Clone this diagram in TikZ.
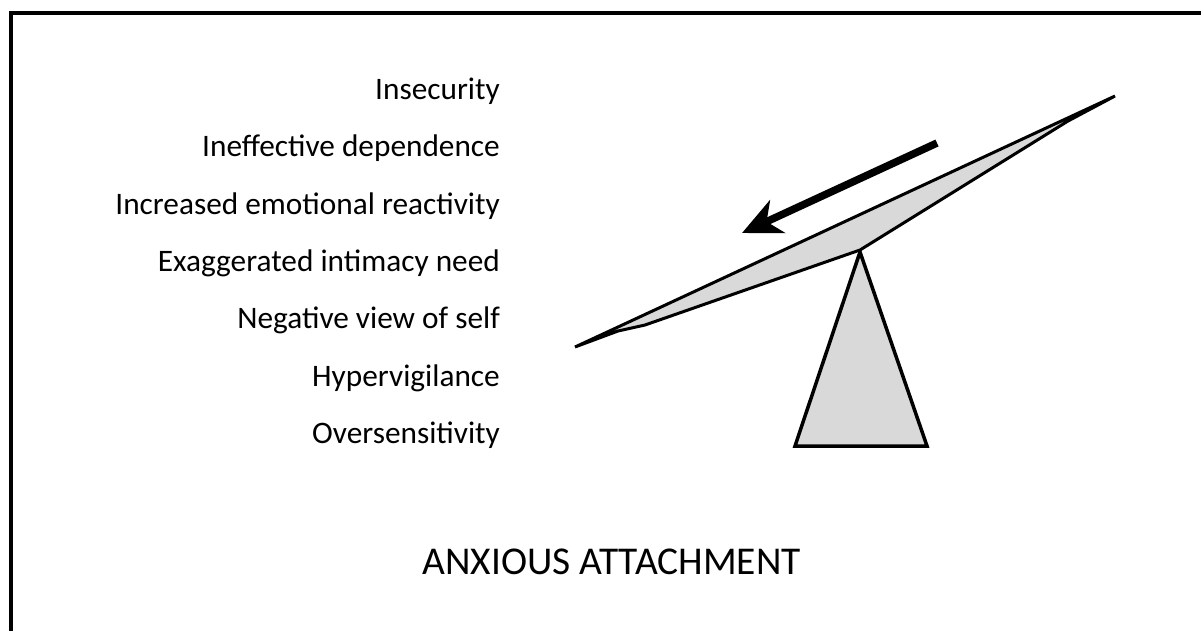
\documentclass[tikz,border=0pt]{standalone}
\usepackage{fontspec}
\setmainfont{Carlito}
\usetikzlibrary{arrows.meta}
\definecolor{plankgray}{HTML}{D9D9D9}
\begin{document}
\begin{tikzpicture}[x=1pt,y=-1pt,
  item/.style={anchor=base east, inner sep=0pt, font=\fontsize{31.3}{37}\selectfont},
  titletext/.style={anchor=base, inner sep=0pt, font=\fontsize{39.4}{47}\selectfont},
  grayshape/.style={draw=black, fill=plankgray, line join=miter},
  bigarrow/.style={line width=7.5pt, -{Stealth[length=39pt, width=36pt, inset=12pt]}}
]
\useasboundingbox (0,0) rectangle (1201,630);
\fill[white] (0,0) rectangle (1201,630);
\draw[line width=4pt] (10.5,640) -- (10.5,13) -- (1215,13);

\node[item] (t1) at (500,99) {Insecurity};
\node[item] (t2) at (500,156.5) {Ineffective dependence};
\node[item] (t3) at (500,214) {Increased emotional reactivity};
\node[item] (t4) at (500,271) {Exaggerated intimacy need};
\node[item] (t5) at (500,328.5) {Negative view of self};
\node[item] (t6) at (500,386) {Hypervigilance};
\node[item] (t7) at (500,443) {Oversensitivity};

\node[titletext] (title) at (611.5,574) {ANXIOUS ATTACHMENT};

% fulcrum
\draw[grayshape, line width=3.5pt] (860,252) -- (927,446) -- (795,446) -- cycle;
% plank
\draw[grayshape, line width=3pt] (575,347) -- (1115,96) -- (1068,121) -- (860,250) -- (645,325) -- (618,331) -- cycle;

% arrow
\coordinate (atail) at (937,143);
\coordinate (ahead) at (742,233);
\draw[bigarrow] (atail) -- (ahead);
\end{tikzpicture}
\end{document}
